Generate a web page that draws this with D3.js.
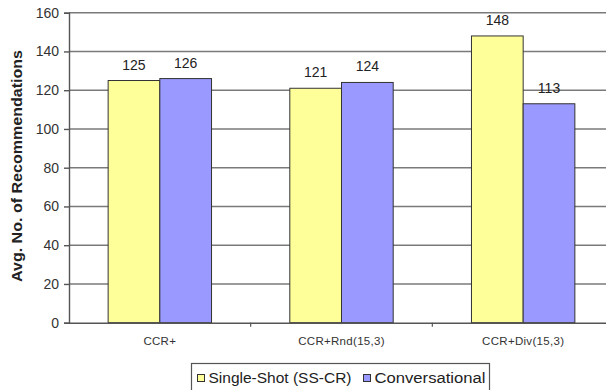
<!DOCTYPE html>
<html>
<head>
<meta charset="utf-8">
<script src="https://cdn.jsdelivr.net/npm/d3@7"></script>
<style>
  html, body { margin: 0; padding: 0; background: #fff; }
  svg { display: block; font-family: Arial, "Liberation Sans", sans-serif; }
</style>
</head>
<body>
<svg id="chart" width="606" height="390"></svg>
<script>
// Chart data
const categories = ["CCR+", "CCR+Rnd(15,3)", "CCR+Div(15,3)"];
const seriesNames = ["Single-Shot (SS-CR)", "Conversational"];
const singleShot = [125, 121, 148];
const conversational = [126, 124, 113];
const yTicks = [0, 20, 40, 60, 80, 100, 120, 140, 160];
const yTitle = "Avg. No. of Recommendations";

const colors = ["#FFFF99", "#9999FF"];
const series = [singleShot, conversational];

const svg = d3.select("#chart");
const plot = { left: 69, right: 614, top: 12.7, bottom: 322.7 };

const x = d3.scaleBand().domain(categories).range([plot.left, plot.right]).paddingInner(0).paddingOuter(0);
const xSub = d3.scaleBand().domain(d3.range(series.length)).range([0, x.bandwidth()]).paddingInner(0).paddingOuter(0.7571);
const y = d3.scaleLinear().domain([0, 160]).range([plot.bottom, plot.top]);

// Gridlines
svg.append("g")
  .selectAll("line")
  .data(yTicks.filter(d => d > 0))
  .join("line")
  .attr("x1", plot.left).attr("x2", plot.right)
  .attr("y1", d => y(d)).attr("y2", d => y(d))
  .attr("stroke", "#7a7a7a").attr("stroke-width", 1.4);

// Bars
const groups = svg.append("g").selectAll("g")
  .data(categories)
  .join("g")
  .attr("transform", d => `translate(${x(d)},0)`);

groups.selectAll("rect")
  .data((c, i) => series.map((s, k) => ({ k, v: s[i] })))
  .join("rect")
  .attr("x", d => xSub(d.k))
  .attr("width", xSub.bandwidth())
  .attr("y", d => y(d.v))
  .attr("height", d => y(0) - y(d.v))
  .attr("fill", d => colors[d.k])
  .attr("stroke", "#333")
  .attr("stroke-width", 1);

// Value labels
groups.selectAll("text")
  .data((c, i) => series.map((s, k) => ({ k, v: s[i] })))
  .join("text")
  .attr("x", d => xSub(d.k) + xSub.bandwidth() / 2)
  .attr("y", d => y(d.v) - 11)
  .attr("text-anchor", "middle")
  .attr("font-size", 14)
  .attr("fill", "#222")
  .text(d => d.v);

// Y axis
const yAxis = d3.axisLeft(y).tickValues(yTicks).tickSize(5).tickPadding(5);
const gy = svg.append("g").attr("transform", `translate(${plot.left},0)`).call(yAxis);
gy.select(".domain").attr("stroke", "#555").attr("stroke-width", 1.4);
gy.selectAll(".tick line").attr("stroke", "#555").attr("stroke-width", 1.4);
gy.selectAll(".tick text").attr("font-size", 14).attr("fill", "#333")
  .attr("font-family", "Arial, 'Liberation Sans', sans-serif");

// X axis
const xAxis = d3.axisBottom(x).tickSize(0).tickPadding(14);
const gx = svg.append("g").attr("transform", `translate(0,${plot.bottom})`).call(xAxis);
gx.select(".domain").attr("stroke", "#555").attr("stroke-width", 1.4);
gx.selectAll(".tick text").attr("font-size", 11.5).attr("fill", "#333")
  .attr("font-family", "Arial, 'Liberation Sans', sans-serif")
  .attr("letter-spacing", 0.3);
// Category separator ticks
gx.append("g").selectAll("line")
  .data(categories.slice(1))
  .join("line")
  .attr("x1", d => x(d)).attr("x2", d => x(d))
  .attr("y1", 0).attr("y2", 4)
  .attr("stroke", "#555").attr("stroke-width", 1.2);

// Y title
svg.append("text")
  .attr("transform", `translate(22,166) rotate(-90)`)
  .attr("text-anchor", "middle")
  .attr("font-size", 14)
  .attr("font-weight", "bold")
  .attr("fill", "#222")
  .attr("textLength", 232)
  .attr("lengthAdjust", "spacingAndGlyphs")
  .text(yTitle);

// Legend
const legend = svg.append("g");
legend.append("rect")
  .attr("x", 191.5).attr("y", 363.5).attr("width", 298).attr("height", 40)
  .attr("fill", "#fff").attr("stroke", "#555").attr("stroke-width", 1.2);
const legendX = [197.5, 363.5];
const legendW = [143, 111];
seriesNames.forEach((name, k) => {
  legend.append("rect")
    .attr("x", legendX[k]).attr("y", 374.5).attr("width", 7).attr("height", 7)
    .attr("fill", colors[k]).attr("stroke", "#333").attr("stroke-width", 1);
  legend.append("text")
    .attr("x", legendX[k] + 11).attr("y", 383)
    .attr("font-size", 15.5)
    .attr("fill", "#222")
    .attr("textLength", legendW[k])
    .attr("lengthAdjust", "spacingAndGlyphs")
    .text(name);
});
</script>
</body>
</html>
